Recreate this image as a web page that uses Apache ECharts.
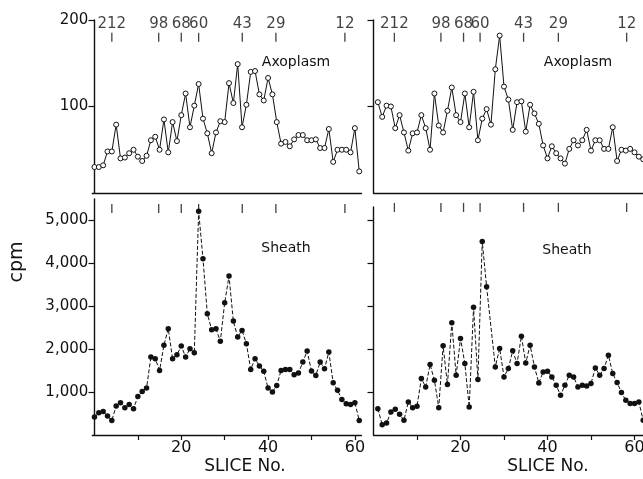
<!DOCTYPE html>
<html>
<head>
<meta charset="utf-8">
<script src="https://cdn.jsdelivr.net/npm/echarts@6/dist/echarts.min.js"></script>
<style>html,body{margin:0;padding:0;background:#fff;overflow:hidden}#c{width:680px;height:479px}</style>
</head>
<body>
<div id="c"></div>
<script>
(() => {
  "use strict";
  // slice numbers of each plotted point
  const slicesL = [0,1,2,3,4,5,6,7,8,9,10,11,12,13,14,15,16,17,18,19,20,21,22,23,24,25,26,27,28,29,30,31,32,33,34,35,36,37,38,39,40,41,42,43,44,45,46,47,48,49,50,51,52,53,54,55,56,57,58,59,60,61];
  const slicesAxoR = [1,2,3,4,5,6,7,8,9,10,11,12,13,14,15,16,17,18,19,20,21,22,23,24,25,26,27,28,29,30,31,32,33,34,35,36,37,38,39,40,41,42,43,44,45,46,47,48,49,50,51,52,53,54,55,56,57,58,59,60,61,62,63];
  const slicesSheathR = [1,2,3,4,5,6,7,8,9,10,11,12,13,14,15,16,17,18,19,20,21,22,23,24,25,26,28,29,30,31,32,33,34,35,36,37,38,39,40,41,42,43,44,45,46,47,48,49,50,51,52,53,54,55,56,57,58,59,60,61,62];

  // cpm
  const axoL = [30,30,32,48,48,79,40,41,46,50,42,37,43,61,65,50,85,47,82,60,90,115,76,101,126,86,69,46,70,83,82,127,104,149,76,102,140,141,114,107,133,114,82,57,59,54,62,67,67,61,61,62,52,52,74,36,50,50,50,47,75,25];
  const sheathL = [417,520,550,440,340,674,753,636,713,613,900,1016,1093,1816,1779,1506,2089,2478,1779,1872,2072,1816,2012,1918,5212,4110,2827,2455,2478,2182,3084,3704,2655,2282,2438,2128,1529,1779,1606,1483,1093,1000,1156,1506,1529,1529,1406,1443,1699,1956,1490,1389,1699,1545,1933,1219,1040,830,730,713,753,340];
  const axoR = [105,88,101,100,75,90,70,49,69,70,90,75,50,115,78,70,95,122,90,82,115,76,117,61,86,97,79,143,182,123,108,73,105,106,71,102,92,80,55,40,54,46,40,34,51,61,55,61,73,49,61,61,51,51,76,37,50,49,51,47,42,39,29];
  const sheathR = [613,240,277,534,597,480,340,767,636,667,1312,1117,1639,1273,636,2072,1173,2608,1389,2245,1662,650,2967,1289,4497,3448,1583,2012,1350,1545,1956,1662,2298,1676,2089,1583,1210,1466,1483,1350,1156,923,1156,1389,1350,1117,1156,1140,1196,1559,1389,1545,1856,1429,1219,986,807,730,730,767,340];

  // molecular weight markers (kDa) and where they sit
  const markerLabels = ["212","98","68","60","43","29","12"];
  const markerSliceL = [4.0,14.8,20.0,24.0,34.05,41.8,57.7];
  const markerSliceR = [4.8,15.5,20.7,24.5,34.5,42.5,58.2];

  const axoTicks = [100,200];
  const sheathTicks = [1000,2000,3000,4000,5000];
  const sliceTicks = [10,20,30,40,50,60];
  const sliceLabels = [20,40,60];

  const INK = "#111";
  const FONT = "DejaVu Sans";
  const pairs = (xs, ys) => ys.map((v, i) => [xs[i], v]);

  const grids = [
    { left: 92.3, top: 20, width: 269.1, height: 173 },
    { left: 373.5, top: 20, width: 278.4, height: 173 },
    { left: 92.3, top: 199, width: 269.1, height: 236 },
    { left: 373.5, top: 207, width: 278.4, height: 228 },
  ];
  const line = { show: true, lineStyle: { color: INK, width: 1.4 } };

  const xTop = (i, min, max) => ({
    type: "value", gridIndex: i, min, max, axisLine: line,
    axisTick: { show: false }, axisLabel: { show: false }, splitLine: { show: false },
  });
  const xBot = (i, min, max) => ({
    type: "value", gridIndex: i, min, max, axisLine: line,
    axisTick: { customValues: sliceTicks, length: 5, lineStyle: { color: INK, width: 1.2 } },
    axisLabel: { customValues: sliceLabels, color: INK, fontFamily: FONT, fontSize: 16, margin: 5 },
    splitLine: { show: false },
  });
  const yAx = (i, max, ticks, labels) => ({
    type: "value", gridIndex: i, min: 0, max, axisLine: line,
    axisTick: { customValues: ticks, length: 6, lineStyle: { color: INK, width: 1.2 } },
    axisLabel: labels ? { customValues: ticks, color: INK, fontFamily: FONT, fontSize: 15, margin: 4,
      formatter: v => Number(v).toLocaleString("en-US") } : { show: false },
    splitLine: { show: false },
  });

  const axoSeries = (i, xs, ys) => ({
    type: "line", xAxisIndex: i, yAxisIndex: i, data: pairs(xs, ys),
    symbol: "circle", symbolSize: 5, showAllSymbol: true,
    lineStyle: { color: INK, width: 1 },
    itemStyle: { color: "#fff", borderColor: INK, borderWidth: 1 },
  });
  const sheathSeries = (i, xs, ys) => ({
    type: "line", xAxisIndex: i, yAxisIndex: i, data: pairs(xs, ys),
    symbol: "circle", symbolSize: 5.5, showAllSymbol: true,
    lineStyle: { color: INK, width: 1, type: [4, 2] },
    itemStyle: { color: INK },
  });
  const markers = (i, xs, y, withLabels) => ({
    type: "scatter", xAxisIndex: i, yAxisIndex: i, clip: false, silent: true,
    data: xs.map((x, k) => ({ value: [x, y], name: markerLabels[k] })),
    symbol: "rect", symbolSize: [1.3, 9], itemStyle: { color: INK },
    label: withLabels ? { show: true, position: "top", distance: 1, formatter: "{b}",
      color: INK, fontFamily: FONT, fontSize: 15 } : { show: false },
  });

  const txt = (x, y, s, size, extra) => ({
    type: "text", x, y, style: Object.assign({ text: s, fill: INK, font: `${size}px "${FONT}"`,
      textAlign: "center", textVerticalAlign: "middle" }, extra || {}),
  });

  const chart = echarts.init(document.getElementById("c"), null, { renderer: "canvas" });
  chart.setOption({
    animation: false,
    backgroundColor: "#fff",
    grid: grids,
    xAxis: [xTop(0, -0.5, 61.5), xTop(1, 0, 64), xBot(2, -0.5, 61.5), xBot(3, 0, 64)],
    yAxis: [yAx(0, 200, axoTicks, true), yAx(1, 200, axoTicks, false),
            yAx(2, 5500, sheathTicks, true), yAx(3, 5300, sheathTicks, false)],
    series: [
      axoSeries(0, slicesL, axoL),
      axoSeries(1, slicesAxoR, axoR),
      sheathSeries(2, slicesL, sheathL),
      sheathSeries(3, slicesSheathR, sheathR),
      markers(0, markerSliceL, 180, true),
      markers(1, markerSliceR, 180, true),
      markers(2, markerSliceL, 5280, false),
      markers(3, markerSliceR, 5290, false),
    ],
    graphic: [
      txt(296, 62, "Axoplasm", 14),
      txt(578, 62, "Axoplasm", 14),
      txt(286, 248, "Sheath", 14),
      txt(567, 250, "Sheath", 14),
      txt(245, 467, "SLICE No.", 17),
      txt(548, 467, "SLICE No.", 17),
      Object.assign(txt(0, 0, "cpm", 19), { x: 17, y: 262, rotation: Math.PI / 2 }),
    ],
  });
})();
</script>
</body>
</html>
